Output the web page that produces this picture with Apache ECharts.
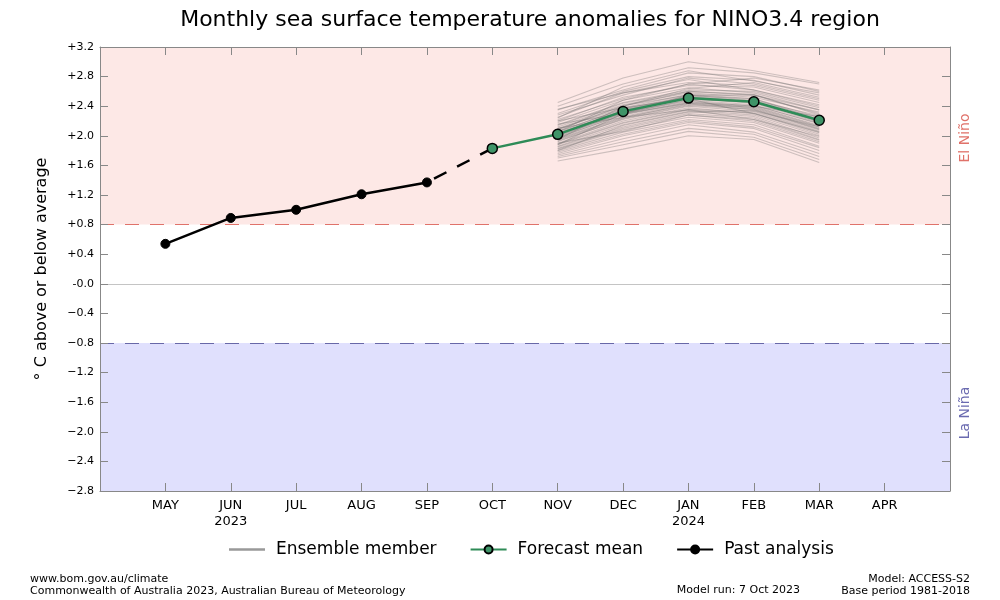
<!DOCTYPE html>
<html>
<head>
<meta charset="utf-8">
<script src="https://cdn.jsdelivr.net/npm/echarts@6/dist/echarts.min.js"></script>
<style>html,body{margin:0;padding:0;background:#fff}#c{width:1000px;height:600px}</style>
</head>
<body>
<div id="c"></div>
<script>
// ---- Data ----
const months = ['MAY','JUN','JUL','AUG','SEP','OCT','NOV','DEC','JAN','FEB','MAR','APR'];
const yearLabels = {JUN:'2023', JAN:'2024'};
const yTicks = [-2.8,-2.4,-2.0,-1.6,-1.2,-0.8,-0.4,0.0,0.4,0.8,1.2,1.6,2.0,2.4,2.8,3.2];
const pastMonths = ['MAY','JUN','JUL','AUG','SEP'];
const pastValues = [0.54, 0.89, 1.00, 1.21, 1.37];
const meanMonths = ['OCT','NOV','DEC','JAN','FEB','MAR'];
const meanValues = [1.83, 2.02, 2.33, 2.51, 2.46, 2.21];
const ensembleMonths = ['NOV','DEC','JAN','FEB','MAR'];
const ensembleMembers = [
 [2.45,2.78,3.00,2.88,2.72],[2.40,2.70,2.92,2.85,2.70],[2.35,2.62,2.85,2.80,2.60],
 [2.30,2.60,2.80,2.75,2.55],[2.28,2.55,2.78,2.70,2.50],[2.25,2.58,2.72,2.68,2.48],
 [2.22,2.50,2.70,2.62,2.42],[2.20,2.52,2.68,2.66,2.45],[2.18,2.48,2.65,2.58,2.35],
 [2.15,2.45,2.62,2.60,2.38],[2.14,2.44,2.60,2.55,2.30],[2.12,2.42,2.58,2.52,2.32],
 [2.10,2.40,2.60,2.56,2.28],[2.09,2.38,2.56,2.50,2.25],[2.08,2.41,2.55,2.48,2.27],
 [2.06,2.36,2.54,2.50,2.22],[2.05,2.37,2.52,2.46,2.20],[2.04,2.34,2.53,2.47,2.24],
 [2.03,2.33,2.50,2.44,2.18],[2.02,2.35,2.51,2.45,2.21],[2.01,2.32,2.48,2.42,2.16],
 [2.00,2.30,2.49,2.46,2.19],[1.99,2.31,2.47,2.40,2.14],[1.98,2.28,2.45,2.41,2.17],
 [1.97,2.29,2.46,2.38,2.12],[1.96,2.26,2.44,2.37,2.10],[1.95,2.25,2.42,2.39,2.13],
 [1.94,2.24,2.43,2.35,2.08],[1.93,2.22,2.40,2.33,2.06],[1.92,2.23,2.41,2.36,2.09],
 [1.90,2.20,2.38,2.30,2.02],[1.89,2.18,2.36,2.31,2.04],[1.88,2.17,2.35,2.28,2.00],
 [1.86,2.15,2.33,2.26,1.97],[1.85,2.12,2.30,2.24,1.95],[1.83,2.10,2.28,2.20,1.92],
 [1.82,2.08,2.25,2.18,1.90],[1.80,2.05,2.22,2.15,1.86],[1.78,2.02,2.20,2.12,1.84],
 [1.76,2.00,2.18,2.10,1.80],[1.74,1.96,2.15,2.05,1.76],[1.72,1.92,2.10,2.02,1.72],
 [1.70,1.88,2.06,1.98,1.68],[1.66,1.82,2.00,1.95,1.64],[2.36,2.58,2.76,2.62,2.40],
 [2.05,2.48,2.70,2.78,2.62],[1.95,2.40,2.64,2.72,2.52],[2.20,2.38,2.50,2.30,2.05],
 [1.88,2.30,2.55,2.55,2.35],[2.10,2.25,2.35,2.22,1.94],[2.24,2.66,2.88,2.74,2.58],
 [1.80,2.14,2.32,2.34,2.12],[2.16,2.30,2.44,2.40,2.26],[1.90,2.06,2.28,2.22,1.99]
];
const elNinoThreshold = 0.8;
const laNinaThreshold = -0.8;
const yMin = -2.8, yMax = 3.2;

// ---- Build ----
const xIdx = m => months.indexOf(m) + 1;
const pair = (ms, vs) => ms.map((m, i) => [xIdx(m), vs[i]]);

function fmtY(v) {
  const r = Math.round(v * 10) / 10;
  if (Math.abs(r) < 1e-9) return '-0.0';
  if (r > 0) return '+' + r.toFixed(1);
  return '\u2212' + Math.abs(r).toFixed(1);
}

const series = [];
series.push({
  type: 'line', name: 'bands', data: [], silent: true, z: 0,
  markArea: {
    silent: true,
    data: [
      [{yAxis: elNinoThreshold, itemStyle: {color: '#fde8e6'}}, {yAxis: yMax}],
      [{yAxis: yMin, itemStyle: {color: '#e0e0fd'}}, {yAxis: laNinaThreshold}]
    ]
  },
  markLine: {
    silent: true, symbol: 'none', label: {show: false},
    data: [
      {yAxis: elNinoThreshold, lineStyle: {color: '#e0726a', type: [14, 11], width: 1.2}},
      {yAxis: laNinaThreshold, lineStyle: {color: '#6868a8', type: [14, 11], width: 1.2}},
      {yAxis: 0, lineStyle: {color: '#c4c4c4', type: 'solid', width: 1}}
    ]
  }
});
ensembleMembers.forEach(vals => {
  series.push({
    type: 'line', name: 'Ensemble member', data: pair(ensembleMonths, vals),
    symbol: 'none', silent: true, z: 2,
    lineStyle: {color: 'rgba(95,95,95,0.3)', width: 1.1},
    itemStyle: {color: '#999'}
  });
});
series.push({
  type: 'line', name: 'bridge', data: [[xIdx('SEP'), pastValues[pastValues.length-1]], [xIdx('OCT'), meanValues[0]]],
  symbol: 'none', z: 3, silent: true,
  lineStyle: {color: '#000', width: 2.5, type: [14, 12], dashOffset: -8}
});
series.push({
  type: 'line', name: 'Forecast mean', data: pair(meanMonths, meanValues),
  symbol: 'circle', symbolSize: 10, z: 5,
  lineStyle: {color: '#2e8b57', width: 2.5},
  itemStyle: {color: '#3f9468', borderColor: '#000', borderWidth: 1.5}
});
series.push({
  type: 'line', name: 'Past analysis', data: pair(pastMonths, pastValues),
  symbol: 'circle', symbolSize: 9, z: 5,
  lineStyle: {color: '#000', width: 2.5},
  itemStyle: {color: '#000', borderColor: '#000', borderWidth: 1}
});

const grid = {left: 100, right: 50, top: 47, bottom: 109};
const chart = echarts.init(document.getElementById('c'), null, {renderer: 'canvas'});
const font = 'DejaVu Sans';
const axisCommon = {
  z: 10,
  axisLine: {show: true, onZero: false, lineStyle: {color: '#888', width: 1}},
  axisTick: {show: true, inside: true, length: 8, lineStyle: {color: '#888'}},
  splitLine: {show: false}
};
chart.setOption({
  backgroundColor: '#fff',
  animation: false,
  textStyle: {fontFamily: font},
  title: {
    text: 'Monthly sea surface temperature anomalies for NINO3.4 region',
    left: 525, top: 4, textAlign: 'center',
    textStyle: {fontFamily: font, fontSize: 22, fontWeight: 'normal', color: '#000'}
  },
  grid: grid,
  legend: {
    data: [
      {name: 'Ensemble member', icon: 'path://M0,0L36,0L36,2.5L0,2.5Z', itemStyle: {color: '#999'}},
      'Forecast mean', 'Past analysis'
    ],
    top: 536, left: 224, itemWidth: 36, itemHeight: 10, itemGap: 33,
    textStyle: {fontSize: 17, color: '#000', fontFamily: font, padding: [0, 0, 0, 6]}
  },
  xAxis: [Object.assign({
    type: 'value', min: 0, max: 13, interval: 1, position: 'bottom',
    axisLabel: {
      color: '#000', fontSize: 13, margin: 7, lineHeight: 16,
      formatter: v => {
        if (v < 1 || v > 12) return '';
        const m = months[v - 1];
        return yearLabels[m] ? m + '\n' + yearLabels[m] : m;
      }
    }
  }, axisCommon), Object.assign({
    type: 'value', min: 0, max: 13, interval: 1, position: 'top',
    axisLabel: {show: false}
  }, axisCommon)],
  yAxis: [Object.assign({
    type: 'value', min: yMin, max: yMax, interval: 0.4, position: 'left',
    name: '\u00B0 C above or below average', nameLocation: 'middle', nameGap: 50,
    nameTextStyle: {fontSize: 16, color: '#000', fontFamily: font},
    axisLabel: {color: '#000', fontSize: 11, margin: 6, formatter: fmtY}
  }, axisCommon), Object.assign({
    type: 'value', min: yMin, max: yMax, interval: 0.4, position: 'right',
    axisLabel: {show: false}
  }, axisCommon)],
  series: series,
  graphic: [
    {type: 'text', x: 958, y: 138, rotation: Math.PI / 2,
      style: {text: 'El Ni\u00F1o', fill: '#e0726a', font: '14px "DejaVu Sans"', textAlign: 'center', textVerticalAlign: 'top'}},
    {type: 'text', x: 958, y: 413, rotation: Math.PI / 2,
      style: {text: 'La Ni\u00F1a', fill: '#6a6ab0', font: '14px "DejaVu Sans"', textAlign: 'center', textVerticalAlign: 'top'}},
    {type: 'text', left: 30, top: 573,
      style: {text: 'www.bom.gov.au/climate\nCommonwealth of Australia 2023, Australian Bureau of Meteorology', fill: '#000', font: '11px "DejaVu Sans"', lineHeight: 12}},
    {type: 'text', x: 800, y: 585,
      style: {text: 'Model run: 7 Oct 2023', fill: '#000', font: '11px "DejaVu Sans"', textAlign: 'right'}},
    {type: 'text', x: 970, y: 573,
      style: {text: 'Model: ACCESS-S2\nBase period 1981-2018', fill: '#000', font: '11px "DejaVu Sans"', textAlign: 'right', lineHeight: 12}}
  ]
});
</script>
</body>
</html>
